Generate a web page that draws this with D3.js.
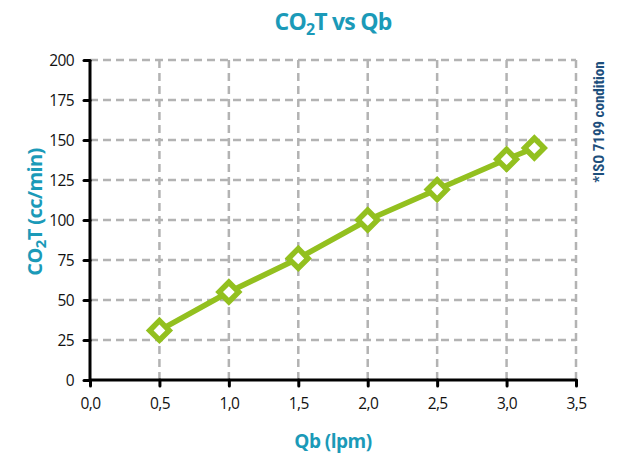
<!DOCTYPE html>
<html>
<head>
<meta charset="utf-8">
<script src="https://cdn.jsdelivr.net/npm/d3@7"></script>
<style>
  body { margin: 0; background: #fff; }
  svg { display: block; }
  .tick text { font-family: "Open Sans", sans-serif; font-size: 15.5px; fill: #111; letter-spacing: -0.6px; }
</style>
</head>
<body>
<svg id="chart" width="620" height="457"></svg>
<script>
// data
var qb = [0.5, 1.0, 1.5, 2.0, 2.5, 3.0, 3.2];
var co2t = [31, 55, 76, 100, 119, 138, 145];
var xTicks = [0, 0.5, 1.0, 1.5, 2.0, 2.5, 3.0, 3.5];
var yTicks = [0, 25, 50, 75, 100, 125, 150, 175, 200];

var teal = "#1b9ab8";
var green = "#93c01f";

var svg = d3.select("#chart");
var margin = {left: 90, right: 44, top: 60, bottom: 77};
var w = 620 - margin.left - margin.right;
var h = 457 - margin.top - margin.bottom;

var x = d3.scaleLinear().domain([0, 3.5]).range([0, w]);
var y = d3.scaleLinear().domain([0, 200]).range([h, 0]);

var g = svg.append("g").attr("transform", "translate(" + margin.left + "," + margin.top + ")");

// grid
g.selectAll(".vgrid").data(xTicks.slice(1)).enter().append("line")
  .attr("x1", function(d){ return x(d); }).attr("x2", function(d){ return x(d); })
  .attr("y1", 0).attr("y2", h)
  .attr("stroke", "#b3b3b3").attr("stroke-width", 2.5).attr("stroke-dasharray", "8,5");
g.selectAll(".hgrid").data(yTicks.slice(1)).enter().append("line")
  .attr("x1", 0).attr("x2", w)
  .attr("y1", function(d){ return y(d); }).attr("y2", function(d){ return y(d); })
  .attr("stroke", "#b3b3b3").attr("stroke-width", 2.5).attr("stroke-dasharray", "8,5");

// axes
var xAxis = d3.axisBottom(x).tickValues(xTicks).tickSize(6).tickPadding(12)
  .tickFormat(function(d){ return d3.format(".1f")(d).replace(".", ","); });
var yAxis = d3.axisLeft(y).tickValues(yTicks).tickSize(6).tickPadding(10);

var gx = g.append("g").attr("transform", "translate(0," + h + ")").call(xAxis);
var gy = g.append("g").call(yAxis);
[gx, gy].forEach(function(a){
  a.select(".domain").attr("stroke", "#000").attr("stroke-width", 3);
  a.selectAll(".tick line").attr("stroke", "#000").attr("stroke-width", 3).attr("stroke-linecap", "round");
});
gx.select(".domain").attr("d", "M0,0H" + w);
gy.select(".domain").attr("d", "M0," + h + "V0");
gy.selectAll(".tick text").attr("dy", "0.38em");

// series
var pts = qb.map(function(d, i){ return [d, co2t[i]]; });
var line = d3.line().x(function(d){ return x(d[0]); }).y(function(d){ return y(d[1]); });
g.append("path").datum(pts).attr("d", line)
  .attr("fill", "none").attr("stroke", green).attr("stroke-width", 5.5).attr("stroke-linejoin", "round");
g.selectAll(".pt").data(pts).enter().append("path")
  .attr("d", d3.symbol().type(d3.symbolSquare).size(190))
  .attr("transform", function(d){ return "translate(" + x(d[0]) + "," + y(d[1]) + ") rotate(45)"; })
  .attr("fill", "#fff").attr("stroke", green).attr("stroke-width", 5.5);

// titles
var title = svg.append("text").attr("x", 333).attr("y", 30).attr("text-anchor", "middle")
  .attr("font-family", "'Open Sans', sans-serif").attr("font-weight", "bold")
  .attr("font-size", 23).attr("fill", teal).attr("letter-spacing", -0.8);
title.append("tspan").text("CO");
title.append("tspan").attr("font-size", 16).attr("dy", 5).text("2");
title.append("tspan").attr("dy", -5).text("T vs Qb");

var ylab = svg.append("text").attr("transform", "translate(42,212) rotate(-90)").attr("text-anchor", "middle")
  .attr("font-family", "'Open Sans', sans-serif").attr("font-weight", "bold")
  .attr("font-size", 20).attr("fill", teal).attr("letter-spacing", -0.6);
ylab.append("tspan").text("CO");
ylab.append("tspan").attr("font-size", 15).attr("dy", 4).text("2");
ylab.append("tspan").attr("dy", -4).text("T (cc/min)");

svg.append("text").attr("x", 333).attr("y", 448).attr("text-anchor", "middle")
  .attr("font-family", "'Open Sans', sans-serif").attr("font-weight", "bold")
  .attr("font-size", 19).attr("fill", teal).attr("letter-spacing", -0.5)
  .text("Qb  (lpm)");

svg.append("text").attr("transform", "translate(604,122) rotate(-90)").attr("text-anchor", "middle")
  .attr("font-family", "'Liberation Sans Narrow', 'Roboto Condensed', sans-serif").attr("font-weight", "bold")
  .attr("font-size", 15).attr("fill", "#1d4f7c")
  .text("*ISO 7199 condition");
</script>
</body>
</html>
